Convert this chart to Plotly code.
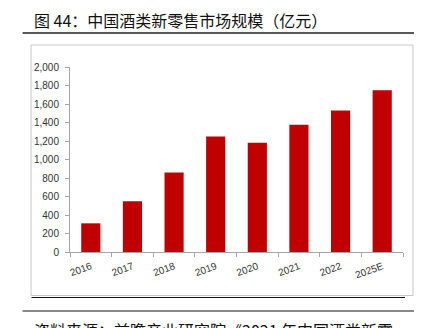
import plotly.graph_objects as go

years = ["2016", "2017", "2018", "2019", "2020", "2021", "2022", "2025E"]
values = [310, 550, 860, 1250, 1180, 1375, 1530, 1750]
y_ticks = [0, 200, 400, 600, 800, 1000, 1200, 1400, 1600, 1800, 2000]
y_tick_text = ["0", "200", "400", "600", "800", "1,000", "1,200", "1,400", "1,600", "1,800", "2,000"]

title_text = "图 44：中国酒类新零售市场规模（亿元）"
source_text = "资料来源：前瞻产业研究院《2021 年中国酒类新零"

W, H = 426, 328
L, R, T, B = 69.5, 23, 67, 76
pw, ph = W - L - R, H - T - B

def px(x):
    return (x - L) / pw

def py(y):
    return 1 - (y - T) / ph

fig = go.Figure(go.Bar(x=years, y=values, marker=dict(color="#C00000", line=dict(width=0))))

shapes = [
    dict(type="line", xref="paper", yref="paper", x0=px(22), x1=px(414), y0=py(33), y1=py(33),
         line=dict(color="#222222", width=1.5)),
    dict(type="rect", xref="paper", yref="paper", x0=px(30.5), x1=px(413), y0=py(45), y1=py(295.5),
         line=dict(color="#C8C8C8", width=1), layer="below"),
    dict(type="line", xref="paper", yref="paper", x0=px(31), x1=px(405), y0=py(297.5), y1=py(297.5),
         line=dict(color="#111111", width=1)),
    dict(type="line", xref="paper", yref="paper", x0=px(22), x1=px(414), y0=py(311), y1=py(311),
         line=dict(color="#888888", width=2)),
]

annotations = [
    dict(text=title_text, xref="paper", yref="paper", x=px(31), y=py(6), xanchor="left", yanchor="top",
         showarrow=False, font=dict(family="Noto Sans CJK SC", size=16, color="#111111")),
    dict(text=source_text, xref="paper", yref="paper", x=px(31), y=py(316), xanchor="left", yanchor="top",
         showarrow=False, font=dict(family="Noto Sans CJK SC", size=16, color="#111111")),
]

fig.update_layout(
    width=W, height=H,
    margin=dict(l=L, r=R, t=T, b=B, pad=0),
    paper_bgcolor="white", plot_bgcolor="white",
    bargap=0.54,
    showlegend=False,
    shapes=shapes,
    annotations=annotations,
    font=dict(family="Liberation Sans", size=10, color="#333333"),
)
fig.update_xaxes(
    type="category",
    showline=True, linecolor="#A6A6A6", linewidth=1,
    ticks="outside", tickson="boundaries", ticklen=4, tickcolor="#A6A6A6",
    tickangle=-20, tickfont=dict(size=10, color="#333333"),
    ticklabelstandoff=4,
    showgrid=False,
)
fig.update_yaxes(
    range=[0, 2000],
    tickvals=y_ticks, ticktext=y_tick_text,
    showline=True, linecolor="#A6A6A6", linewidth=1,
    ticks="outside", ticklen=4, tickcolor="#A6A6A6",
    tickfont=dict(size=10, color="#333333"),
    ticklabelstandoff=4,
    showgrid=False, zeroline=False,
)

fig.write_html("out.html")
